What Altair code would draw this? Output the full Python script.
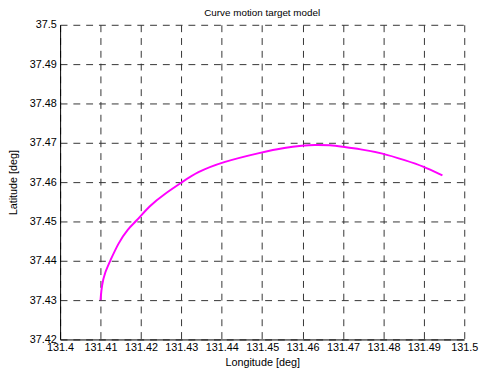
import altair as alt
import pandas as pd

lon = [131.4100, 131.4103, 131.4111, 131.4124, 131.4144, 131.4168, 131.4188,
       131.4221, 131.4257, 131.4302, 131.4338, 131.4400, 131.4499, 131.4557,
       131.4600, 131.4629, 131.4670, 131.4698, 131.4742, 131.4797,
       131.4855, 131.4897, 131.4946]
lat = [37.4300, 37.4338, 37.4371, 37.4400, 37.4445, 37.4482, 37.4500,
       37.4540, 37.4569, 37.4600, 37.4625, 37.4651, 37.4676, 37.4688,
       37.4693, 37.4695, 37.4694, 37.4690, 37.4684, 37.4674,
       37.4655, 37.4641, 37.4617]

x_ticks = [131.4, 131.41, 131.42, 131.43, 131.44, 131.45, 131.46, 131.47, 131.48, 131.49, 131.5]
y_ticks = [37.42, 37.43, 37.44, 37.45, 37.46, 37.47, 37.48, 37.49, 37.5]

df = pd.DataFrame({"lon": lon, "lat": lat, "i": list(range(len(lon)))})

FONT = "Liberation Sans"

chart = alt.Chart(df).mark_line(color="#ff00ff", strokeWidth=2, interpolate="basis").encode(
    x=alt.X("lon:Q",
            scale=alt.Scale(domain=[131.4, 131.5], nice=False, zero=False),
            axis=alt.Axis(values=x_ticks, format="~g", title="Longitude [deg]",
                          labelPadding=2, titlePadding=5, tickSize=0,
                          labelFlush=False, labelOverlap=False)),
    y=alt.Y("lat:Q",
            scale=alt.Scale(domain=[37.42, 37.5], nice=False, zero=False),
            axis=alt.Axis(values=y_ticks, format="~g", title="Latitude [deg]",
                          labelPadding=4, titlePadding=11, tickSize=0,
                          labelFlush=False, labelOverlap=False)),
    order="i:Q",
).properties(
    width=411, height=320,
    title=alt.TitleParams("Curve motion target model", fontSize=10, fontWeight="normal",
                          font=FONT, color="black", offset=1),
    autosize=alt.AutoSizeParams(type="none"),
    padding={"left": 53, "top": 14, "right": 15, "bottom": 29},
).configure_view(
    stroke=None
).configure_axis(
    labelFont=FONT, titleFont=FONT, labelFontSize=11, titleFontSize=11,
    labelColor="black", titleColor="black", titleFontWeight="normal",
    domainColor="black", domainWidth=1,
    gridColor="#333333", gridDash=[7, 6], gridWidth=1, gridOpacity=1,
)

chart.save("out.html", embed_options={"renderer": "svg", "actions": False})
